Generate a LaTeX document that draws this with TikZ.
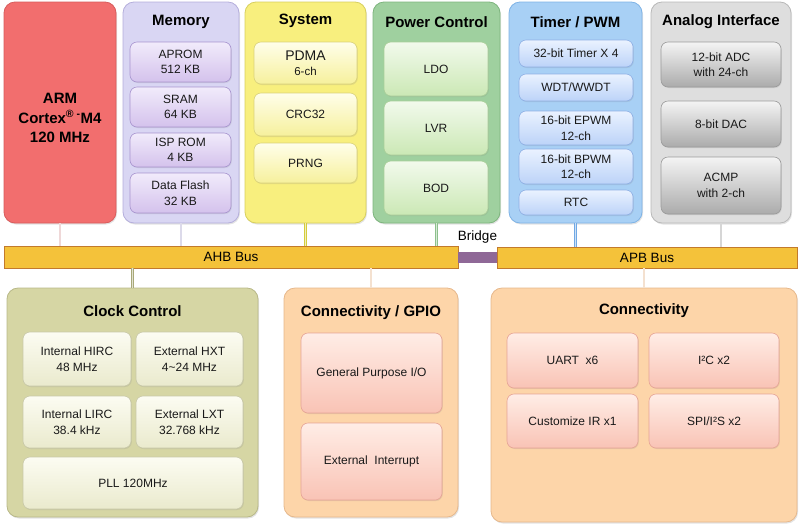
\documentclass[tikz,border=0pt]{standalone}
\usepackage{fontspec}
\setmainfont{Liberation Sans}
\usetikzlibrary{shadows}
\definecolor{armfill}{HTML}{F26E6E}\definecolor{armline}{HTML}{D85C5C}
\definecolor{memfill}{HTML}{D9D6F3}\definecolor{memline}{HTML}{B4AEDB}
\definecolor{memtop}{HTML}{F1EBFB}\definecolor{membot}{HTML}{D4C2EC}\definecolor{meminl}{HTML}{A894CF}
\definecolor{sysfill}{HTML}{F8EF7E}\definecolor{sysline}{HTML}{D7CF5E}
\definecolor{systop}{HTML}{FFFEEA}\definecolor{sysbot}{HTML}{F6F09C}\definecolor{sysinl}{HTML}{DAD27A}
\definecolor{pwrfill}{HTML}{9FD09F}\definecolor{pwrline}{HTML}{7DB47D}
\definecolor{pwrtop}{HTML}{F2FAEC}\definecolor{pwrbot}{HTML}{CBE8B5}\definecolor{pwrinl}{HTML}{A8CE98}
\definecolor{tmrfill}{HTML}{A8D0F5}\definecolor{tmrline}{HTML}{7EB3E6}
\definecolor{tmrtop}{HTML}{EAF2FF}\definecolor{tmrbot}{HTML}{BCD3F8}\definecolor{tmrinl}{HTML}{8FB0E5}
\definecolor{anafill}{HTML}{DEDEDE}\definecolor{analine}{HTML}{B8B8B8}
\definecolor{anatop}{HTML}{F4F4F4}\definecolor{anabot}{HTML}{ABABAB}\definecolor{anainl}{HTML}{9A9A9A}
\definecolor{clkfill}{HTML}{D6D6A4}\definecolor{clkline}{HTML}{B8B888}
\definecolor{clktop}{HTML}{FCFCF2}\definecolor{clkbot}{HTML}{EAEACD}\definecolor{clkinl}{HTML}{C8C8A8}
\definecolor{confill}{HTML}{FDD5A9}\definecolor{conline}{HTML}{E6B88C}
\definecolor{contop}{HTML}{FFEDE6}\definecolor{conbot}{HTML}{F9C3B5}\definecolor{coninl}{HTML}{E6A496}
\definecolor{busfill}{HTML}{F4C23A}\definecolor{busline}{HTML}{C27A2C}
\definecolor{bridgefill}{HTML}{8F6897}
\definecolor{lkarm}{HTML}{D09090}\definecolor{lkmem}{HTML}{9A94C4}\definecolor{lksys}{HTML}{D4CC3C}
\definecolor{lkpwr}{HTML}{8CC08C}\definecolor{lktmr}{HTML}{70A8E4}\definecolor{lkana}{HTML}{8A8A8A}
\definecolor{lkclk}{HTML}{A8A878}\definecolor{lkcon}{HTML}{E0A878}
\newcommand\titlefont{\fontsize{15}{18}\selectfont\bfseries}
\newcommand\smallfont{\fontsize{12}{15.5}\selectfont}
\begin{document}
\begin{tikzpicture}[x=1pt,y=-1pt,
  sz/.style 2 args={minimum width=#1pt, minimum height=#2pt},
  outerbox/.style 2 args={rounded corners=11pt, draw=#2, fill=#1, line width=0.8pt, inner sep=0pt,
     drop shadow={opacity=0.22, shadow xshift=1pt, shadow yshift=-1.5pt}},
  innerbox/.style n args={3}{rounded corners=7pt, draw=#3, top color=#1, bottom color=#2, line width=0.6pt,
     inner sep=0pt, align=center, font=\smallfont, text=black!90,
     drop shadow={opacity=0.18, shadow xshift=0.8pt, shadow yshift=-1pt}},
  mem/.style={innerbox={memtop}{membot}{meminl}},
  sysb/.style={innerbox={systop}{sysbot}{sysinl}},
  pwr/.style={innerbox={pwrtop}{pwrbot}{pwrinl}},
  tmr/.style={innerbox={tmrtop}{tmrbot}{tmrinl}},
  ana/.style={innerbox={anatop}{anabot}{anainl}},
  clk/.style={innerbox={clktop}{clkbot}{clkinl}},
  con/.style={innerbox={contop}{conbot}{coninl}},
  titlelbl/.style={font=\titlefont, inner sep=0pt},
  bus/.style={draw=busline, fill=busfill, line width=0.7pt, inner sep=0pt, font=\fontsize{13.5}{16}\selectfont,
     drop shadow={opacity=0.2, shadow xshift=0.8pt, shadow yshift=-1.2pt}},
  link/.style={draw=#1, double=#1!35, double distance=1.1pt, line width=0.8pt}
]
\useasboundingbox (0,0) rectangle (800,528);

% ---- top row outer boxes
\node[outerbox={armfill}{armline}, sz={112}{221}] (arm) at (60,112.5) {};
\node[font=\fontsize{15}{19.5}\selectfont\bfseries, align=center, inner sep=0pt] (armt) at (60,118)
  {ARM\\Cortex\textsuperscript{®}\,\textsuperscript{-}M4\\120 MHz};
\node[outerbox={memfill}{memline}, sz={116}{221}] (memb) at (181,112.5) {};
\node[outerbox={sysfill}{sysline}, sz={121}{221}] (sysbox) at (305.5,112.5) {};
\node[outerbox={pwrfill}{pwrline}, sz={127}{221}] (pwrbox) at (436.5,112.5) {};
\node[outerbox={tmrfill}{tmrline}, sz={133}{221}] (tmrbox) at (575.5,112.5) {};
\node[outerbox={anafill}{analine}, sz={140}{221}] (anabox) at (721,112.5) {};

\node[titlelbl] (memt) at (181,22) {Memory};
\node[titlelbl] (syst) at (305.5,21) {System};
\node[titlelbl] (pwrt) at (436.5,22) {Power Control};
\node[titlelbl] (tmrt) at (575.5,22) {Timer / PWM};
\node[titlelbl] (anat) at (721,22) {Analog Interface};

% memory
\node[mem, sz={101}{40}] (aprom) at (180.5,62) {APROM\\512 KB};
\node[mem, sz={101}{40}] (sram) at (180.5,107) {SRAM\\64 KB};
\node[mem, sz={101}{34}] (isp) at (180.5,150) {ISP ROM\\4 KB};
\node[mem, sz={101}{40}] (dflash) at (180.5,193) {Data Flash\\32 KB};
% system
\node[sysb, sz={103}{42}] (pdma) at (305.5,63) {{\fontsize{14}{15}\selectfont PDMA}\\[-1pt]{\fontsize{11.5}{13}\selectfont 6-ch}};
\node[sysb, sz={103}{43}] (crc) at (305.5,114.5) {CRC32};
\node[sysb, sz={103}{40}] (prng) at (305.5,163) {PRNG};
% power
\node[pwr, sz={104}{54}] (ldo) at (436,69) {LDO};
\node[pwr, sz={104}{54}] (lvr) at (436,128) {LVR};
\node[pwr, sz={104}{54}] (bod) at (436,188) {BOD};
% timer
\node[tmr, sz={114}{27}] (t32) at (576,53.5) {32-bit Timer X 4};
\node[tmr, sz={114}{27}] (wdt) at (576,87.5) {WDT/WWDT};
\node[tmr, sz={114}{34}] (epwm) at (576,128) {16-bit EPWM\\12-ch};
\node[tmr, sz={114}{35}] (bpwm) at (576,166.5) {16-bit BPWM\\12-ch};
\node[tmr, sz={114}{25}] (rtc) at (576,202.5) {RTC};
% analog
\node[ana, sz={120}{45}] (adc) at (721,64.5) {12-bit ADC\\with 24-ch};
\node[ana, sz={120}{46}] (dac) at (721,124) {8-bit DAC};
\node[ana, sz={120}{57}] (acmp) at (721,185.5) {ACMP\\with 2-ch};

% ---- buses
\node[bus, sz={454}{22}] (ahb) at (231,257) {AHB Bus};
\node[bus, sz={300}{21}] (apb) at (647,257.5) {APB Bus};
\node[fill=bridgefill, inner sep=0pt, sz={39}{11}] (bridge) at (477.5,257.5) {};
\node[font=\fontsize{13.5}{16}\selectfont, inner sep=0pt] (bridget) at (477.5,237) {Bridge};

% ---- bottom row outer boxes
\node[outerbox={clkfill}{clkline}, sz={251}{229}] (clkbox) at (132.5,402.5) {};
\node[outerbox={confill}{conline}, sz={174}{229}] (gpiobox) at (371,402.5) {};
\node[outerbox={confill}{conline}, sz={306}{234}] (conbox) at (644,405) {};

\node[titlelbl] (clkt) at (132.5,311) {Clock Control};
\node[titlelbl] (gpiot) at (371,313) {Connectivity / GPIO};
\node[titlelbl] (cont) at (644,311) {Connectivity};

% clock
\node[clk, sz={108}{54}] (hirc) at (77,359) {Internal HIRC\\48 MHz};
\node[clk, sz={107}{54}] (hxt) at (189.5,359) {External HXT\\4\textasciitilde 24 MHz};
\node[clk, sz={108}{52}] (lirc) at (77,422) {Internal LIRC\\38.4 kHz};
\node[clk, sz={107}{52}] (lxt) at (189.5,422) {External LXT\\32.768 kHz};
\node[clk, sz={220}{52}] (pll) at (133,483) {PLL 120MHz};
% gpio
\node[con, sz={141}{80}] (gpio) at (371.5,373) {General Purpose I/O};
\node[con, sz={141}{77}] (eint) at (371.5,461.5) {External~~Interrupt};
% connectivity
\node[con, sz={131}{55}] (uart) at (572.5,360.5) {UART~~x6};
\node[con, sz={130}{55}] (i2c) at (714,360.5) {I²C x2};
\node[con, sz={131}{54}] (ir) at (572.5,421) {Customize IR x1};
\node[con, sz={130}{54}] (spi) at (714,421) {SPI/I²S x2};

% ---- connectors
\draw[link=lkarm] (arm.south) -- (arm.south |- ahb.north);
\draw[link=lkmem] (memb.south) -- (memb.south |- ahb.north);
\draw[link=lksys] (sysbox.south) -- (sysbox.south |- ahb.north);
\draw[link=lkpwr] (pwrbox.south) -- (pwrbox.south |- ahb.north);
\draw[link=lktmr] (tmrbox.south) -- (tmrbox.south |- apb.north);
\draw[link=lkana] (anabox.south) -- (anabox.south |- apb.north);
\draw[link=lkclk] (ahb.south -| clkbox.north) -- (clkbox.north);
\draw[link=lkcon] (ahb.south -| gpiobox.north) -- (gpiobox.north);
\draw[link=lkcon] (apb.south -| conbox.north) -- (conbox.north);
\end{tikzpicture}
\end{document}
